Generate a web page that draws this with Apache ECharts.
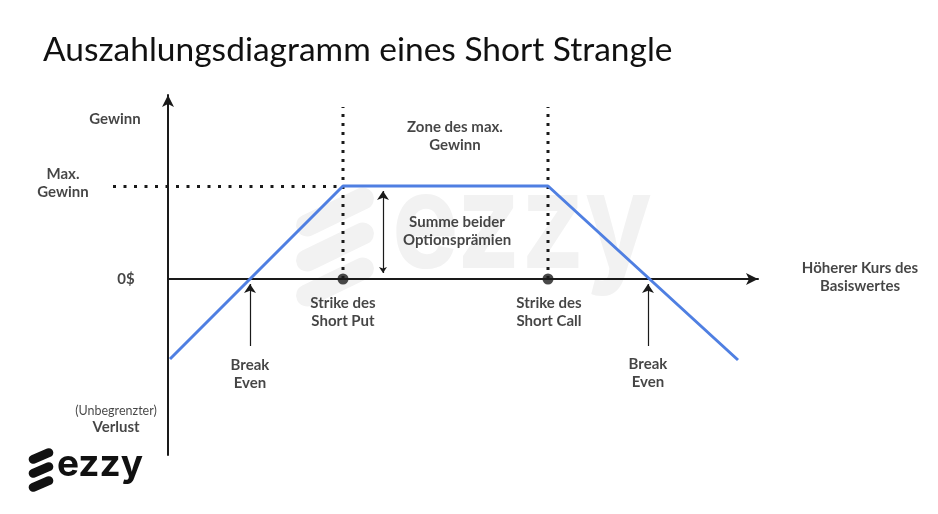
<!DOCTYPE html>
<html><head><meta charset="utf-8">
<script src="https://cdn.jsdelivr.net/npm/echarts@6/dist/echarts.min.js"></script>
<style>html,body{margin:0;padding:0;background:#fff}#c{width:938px;height:514px}</style>
</head><body><div id="c"></div>
<script>
// ---- data (price units on x, payoff units on y) ----
const chartTitle = 'Auszahlungsdiagramm eines Short Strangle';
const payoffX = [0.2, 17.5, 38, 57];
const payoffY = [-8.0, 9.3, 9.3, -8.1];
const strikeX = [17.5, 38];
const maxGain = 9.3;
const zoneTop = 17.2;
const maxGainLineStart = -5.5;
const breakEvenX = [8.2, 48];
const breakEvenArrowY = [-6.7, -0.5];
const premiumArrowX = 21.5;
const premiumArrowY = [0.6, 8.8];

const labelTexts = ['Gewinn', 'Max.\nGewinn', '0$', '(Unbegrenzter)\nVerlust',
  'Zone des max.\nGewinn', 'Summe beider\nOptionsprämien',
  'Strike des\nShort Put', 'Strike des\nShort Call', 'Break\nEven', 'Break\nEven',
  'Höherer Kurs des\nBasiswertes'];
const labelX = [-5.3, -10.5, -4.2, -5.2, 28.7, 28.9, 17.5, 38.1, 8.2, 48, 69.2];
const labelY = [16.0, 9.6, 0, -14.05, 14.25, 4.77, -3.3, -3.3, -9.5, -9.45, 0.2];

// ---- chart ----
const ink = '#1a1a1a';
const FONT = 'Lato';
const chart = echarts.init(document.getElementById('c'), null, {renderer: 'canvas'});

const annotationData = labelTexts.map((t, i) => {
  const item = {value: [labelX[i], labelY[i]], name: t};
  if (t.startsWith('(Unbegrenzter)')) {
    item.label = {formatter: '{a|(Unbegrenzter)}\n{b|Verlust}'};
  }
  return item;
});

const wm = '#f2f2f2';
const option = {
  animation: false,
  backgroundColor: '#fff',
  title: {
    text: chartTitle, left: 38, top: 28,
    textStyle: {fontFamily: FONT, fontSize: 33.5, fontWeight: 'normal', color: '#111'}
  },
  grid: {left: 168, right: 180, top: 95, bottom: 59},
  xAxis: {
    type: 'value', min: 0, max: 59,
    axisLine: {onZero: true, symbol: ['none', 'arrow'], symbolSize: [9, 12],
      lineStyle: {color: ink, width: 2}},
    axisTick: {show: false}, axisLabel: {show: false}, splitLine: {show: false}
  },
  yAxis: {
    type: 'value', min: -17.6, max: 18.4,
    axisLine: {onZero: true, symbol: ['none', 'arrow'], symbolSize: [9, 12],
      lineStyle: {color: ink, width: 2}},
    axisTick: {show: false}, axisLabel: {show: false}, splitLine: {show: false}
  },
  graphic: [
    // faint watermark
    {type: 'group', x: 0, y: 0, z: -10, silent: true, children: [
      {type: 'rect', x: 335, y: 212, rotation: 0.45, shape: {x: -42, y: -11, width: 84, height: 22, r: 11}, style: {fill: wm}},
      {type: 'rect', x: 335, y: 247, rotation: 0.45, shape: {x: -42, y: -11, width: 84, height: 22, r: 11}, style: {fill: wm}},
      {type: 'rect', x: 335, y: 282, rotation: 0.45, shape: {x: -42, y: -11, width: 84, height: 22, r: 11}, style: {fill: wm}},
      {type: 'text', x: 392, y: 160, scaleY: 1.2, style: {text: 'ezzy', font: 'bold 112px Inter', fill: wm}}
    ]},
    // logo
    {type: 'rect', x: 41, y: 456, rotation: 0.4, shape: {x: -13, y: -4.5, width: 26, height: 9, r: 4.5}, style: {fill: '#111'}},
    {type: 'rect', x: 41, y: 470, rotation: 0.4, shape: {x: -13, y: -4.5, width: 26, height: 9, r: 4.5}, style: {fill: '#111'}},
    {type: 'rect', x: 41, y: 484, rotation: 0.4, shape: {x: -13, y: -4.5, width: 26, height: 9, r: 4.5}, style: {fill: '#111'}},
    {type: 'text', x: 57, y: 446, style: {text: 'ezzy', font: 'bold 37px Inter', fill: '#111'}}
  ],
  series: [
    // dotted strike verticals
    ...strikeX.map(x => ({
      type: 'line', clip: false, symbol: 'none', silent: true,
      data: [[x, 0], [x, zoneTop]],
      lineStyle: {color: ink, width: 3, type: [3, 6]}
    })),
    // dotted max gain horizontal (starts left of the y axis)
    {
      type: 'lines', coordinateSystem: 'cartesian2d', clip: false, silent: true,
      symbol: 'none',
      lineStyle: {color: ink, width: 3, type: [3, 7.5], opacity: 1},
      data: [{coords: [[maxGainLineStart, maxGain], [strikeX[0], maxGain]]}]
    },
    // payoff line
    {
      type: 'line', clip: false, symbol: 'none', z: 5,
      data: payoffX.map((x, i) => [x, payoffY[i]]),
      lineStyle: {color: '#4f7fe2', width: 3}
    },
    // strike dots
    {
      type: 'scatter', z: 6, symbolSize: 11,
      data: strikeX.map(x => [x, 0]),
      itemStyle: {color: ink}
    },
    // arrows
    {
      type: 'lines', coordinateSystem: 'cartesian2d', z: 4,
      symbol: ['none', 'arrow'], symbolSize: [6, 9],
      lineStyle: {color: ink, width: 1.2, opacity: 1},
      data: breakEvenX.map(x => ({coords: [[x, breakEvenArrowY[0]], [x, breakEvenArrowY[1]]]}))
    },
    {
      type: 'lines', coordinateSystem: 'cartesian2d', z: 4,
      symbol: ['arrow', 'arrow'], symbolSize: [6, 9],
      lineStyle: {color: ink, width: 1.2, opacity: 1},
      data: [{coords: [[premiumArrowX, premiumArrowY[0]], [premiumArrowX, premiumArrowY[1]]]}]
    },
    // text annotations
    {
      type: 'scatter', clip: false, silent: true, z: 7,
      symbolSize: 1, itemStyle: {color: 'rgba(0,0,0,0)'},
      data: annotationData,
      label: {
        show: true, position: 'inside', formatter: p => p.name,
        fontFamily: FONT, fontSize: 15, fontWeight: 'bold', color: '#161616',
        lineHeight: 18, align: 'center', verticalAlign: 'middle',
        rich: {
          a: {fontFamily: FONT, fontSize: 12.5, fontWeight: 'normal', color: '#161616', lineHeight: 16, align: 'center'},
          b: {fontFamily: FONT, fontSize: 15, fontWeight: 'bold', color: '#161616', lineHeight: 18, align: 'center'}
        }
      }
    }
  ]
};
chart.setOption(option);
</script>
</body></html>
